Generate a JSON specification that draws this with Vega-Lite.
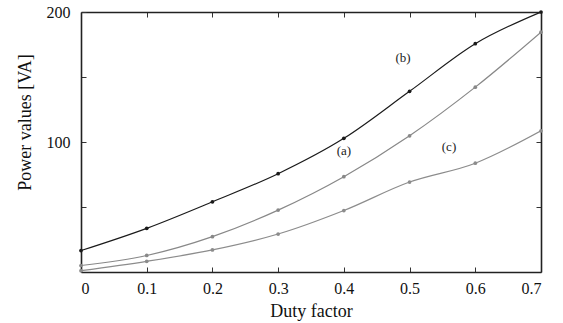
{
  "$schema": "https://vega.github.io/schema/vega-lite/v6.json",
  "width": 460,
  "height": 260,
  "autosize": {"type": "none"},
  "padding": {"left": 81, "top": 12, "right": 22, "bottom": 51},
  "background": "white",
  "config": {
    "font": "Liberation Serif",
    "view": {"stroke": null},
    "axis": {
      "grid": false,
      "domainColor": "#222",
      "domainWidth": 1.6,
      "tickColor": "#333",
      "tickSize": -5,
      "tickWidth": 1,
      "labelFont": "Liberation Serif",
      "labelFontSize": 16,
      "labelColor": "#111",
      "titleFont": "Liberation Serif",
      "titleFontSize": 18,
      "titleFontWeight": "normal",
      "titleColor": "#111"
    }
  },
  "datasets": {
    "curves": [
      {"duty": 0, "power": 16.5, "curve": "b"},
      {"duty": 0.1, "power": 33.6, "curve": "b"},
      {"duty": 0.2, "power": 54, "curve": "b"},
      {"duty": 0.3, "power": 75.6, "curve": "b"},
      {"duty": 0.4, "power": 102.8, "curve": "b"},
      {"duty": 0.5, "power": 139, "curve": "b"},
      {"duty": 0.6, "power": 175.6, "curve": "b"},
      {"duty": 0.7, "power": 200, "curve": "b"},
      {"duty": 0, "power": 5, "curve": "a"},
      {"duty": 0.1, "power": 12.7, "curve": "a"},
      {"duty": 0.2, "power": 27.2, "curve": "a"},
      {"duty": 0.3, "power": 47.6, "curve": "a"},
      {"duty": 0.4, "power": 73.3, "curve": "a"},
      {"duty": 0.5, "power": 104.8, "curve": "a"},
      {"duty": 0.6, "power": 142.2, "curve": "a"},
      {"duty": 0.7, "power": 184.5, "curve": "a"},
      {"duty": 0, "power": 1, "curve": "c"},
      {"duty": 0.1, "power": 8.2, "curve": "c"},
      {"duty": 0.2, "power": 17, "curve": "c"},
      {"duty": 0.3, "power": 29.2, "curve": "c"},
      {"duty": 0.4, "power": 47.3, "curve": "c"},
      {"duty": 0.5, "power": 69.2, "curve": "c"},
      {"duty": 0.6, "power": 83.7, "curve": "c"},
      {"duty": 0.7, "power": 108.6, "curve": "c"}
    ],
    "labels": [
      {"duty": 0.49, "power": 165, "text": "(b)"},
      {"duty": 0.40, "power": 93, "text": "(a)"},
      {"duty": 0.56, "power": 96, "text": "(c)"}
    ]
  },
  "resolve": {"axis": {"x": "independent", "y": "independent"}},
  "layer": [
    {
      "data": {"name": "curves"},
      "mark": {"type": "line", "interpolate": "monotone", "strokeWidth": 1.2, "clip": true},
      "encoding": {
        "x": {
          "field": "duty", "type": "quantitative",
          "scale": {"domain": [0, 0.7], "nice": false},
          "axis": {"orient": "bottom", "values": [0, 0.1, 0.2, 0.3, 0.4, 0.5, 0.6, 0.7], "format": "g", "labelPadding": 13, "title": "Duty factor", "titlePadding": 6}
        },
        "y": {
          "field": "power", "type": "quantitative",
          "scale": {"domain": [0, 200], "nice": false, "zero": false},
          "axis": {"orient": "left", "values": [50, 100, 150, 200], "labelExpr": "datum.value == 100 || datum.value == 200 ? datum.label : ''", "labelPadding": 16, "title": "Power values [VA]", "titlePadding": 12, "titleY": 110}
        },
        "color": {
          "field": "curve", "type": "nominal",
          "scale": {"domain": ["a", "b", "c"], "range": ["#888888", "#1a1a1a", "#8c8c8c"]},
          "legend": null
        }
      }
    },
    {
      "data": {"name": "curves"},
      "mark": {"type": "point", "filled": true, "size": 14, "opacity": 1},
      "encoding": {
        "x": {
          "field": "duty", "type": "quantitative",
          "axis": {"orient": "top", "values": [0.1, 0.2, 0.3, 0.4, 0.5, 0.6], "labels": false, "title": null}
        },
        "y": {
          "field": "power", "type": "quantitative",
          "axis": {"orient": "right", "values": [50, 100, 150], "labels": false, "title": null}
        },
        "color": {
          "field": "curve", "type": "nominal",
          "scale": {"domain": ["a", "b", "c"], "range": ["#666666", "#111111", "#777777"]},
          "legend": null
        }
      }
    },
    {
      "data": {"name": "labels"},
      "mark": {"type": "text", "fontSize": 13, "font": "Liberation Serif", "color": "#222"},
      "encoding": {
        "x": {"field": "duty", "type": "quantitative", "axis": null},
        "y": {"field": "power", "type": "quantitative", "axis": null},
        "text": {"field": "text"}
      }
    }
  ]
}
